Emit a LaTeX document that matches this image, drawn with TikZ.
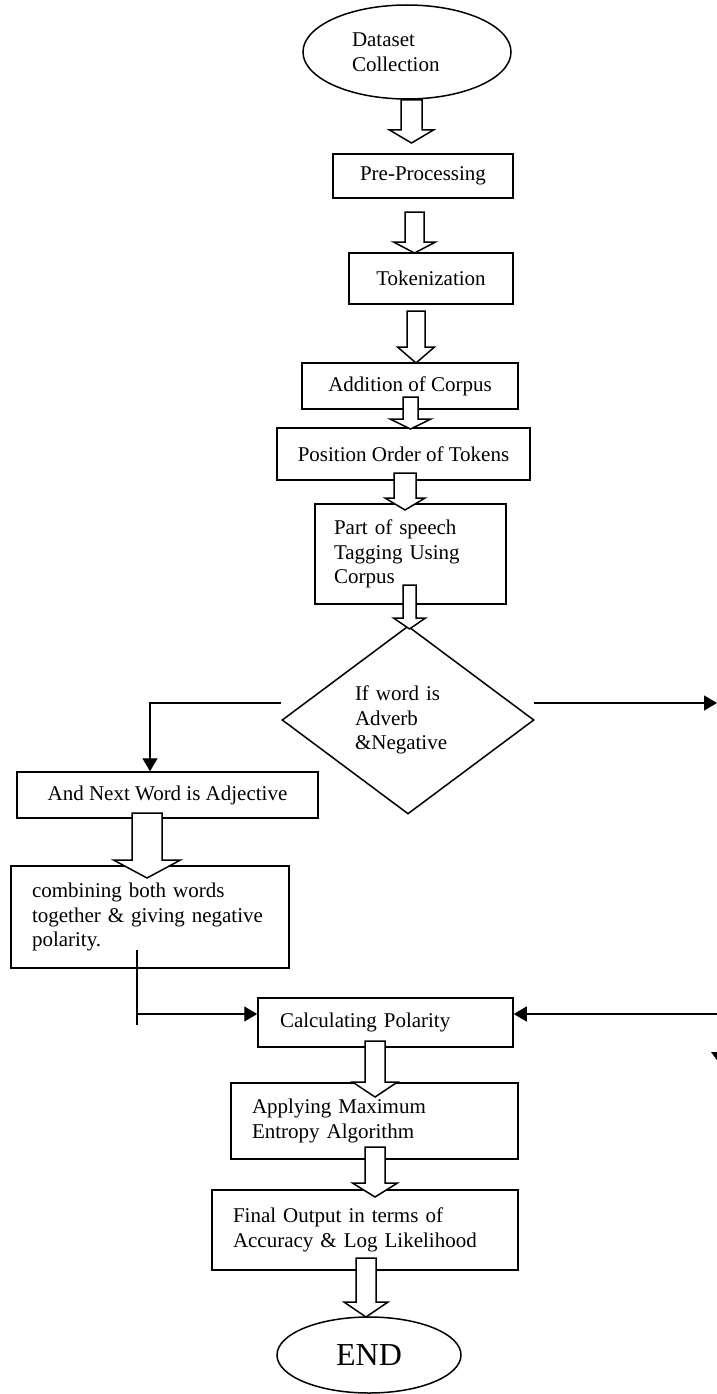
\documentclass[tikz,border=0pt]{standalone}
\usepackage{fontspec}
\setmainfont{Liberation Serif}
\usetikzlibrary{shapes.geometric,arrows.meta,calc}
\newcommand\boxfs{\fontsize{21}{24.5}\selectfont}
\newcommand\bigfs{\fontsize{32}{36}\selectfont}
\newcommand\blockarr[6]{% x, top, headstart, tip, shaft half, head half
  \draw[barrow] (#1-#5,#2) -- (#1-#5,#3) -- (#1-#6,#3) -- (#1,#4) -- (#1+#6,#3) -- (#1+#5,#3) -- (#1+#5,#2) -- cycle;}
\tikzset{
  box/.style={draw, rectangle, line width=1.5pt, inner sep=0pt, font=\boxfs, align=center},
  ell/.style={draw, ellipse, line width=1.5pt, inner sep=0pt, font=\boxfs},
  dia/.style={draw, diamond, line width=1.5pt, inner sep=0pt, font=\boxfs},
  conn/.style={line width=1.3pt},
  arr/.style={-{Triangle[length=13pt,width=15pt]}},
  barrow/.style={draw, fill=white, line width=1.5pt, line join=miter},
}
\begin{document}
\begin{tikzpicture}[x=1pt,y=-1pt]
\useasboundingbox (0,0) rectangle (717,1394);

% nodes
\node[ell, minimum width=208pt, minimum height=94pt, text width=110pt, align=left] (ds) at (407,52) {Dataset\\Collection};
\node[box, minimum width=180pt, minimum height=44pt] (pre) at (423,176) {Pre-Processing};
\node[box, minimum width=164pt, minimum height=51pt] (tok) at (431,278.5) {Tokenization};
\node[box, minimum width=216pt, minimum height=46pt] (add) at (410,386) {Addition of Corpus};
\node[box, minimum width=253pt, minimum height=52pt] (pos) at (403.5,454) {Position Order of Tokens};
\node[box, minimum width=191pt, minimum height=100pt, text width=153pt, align=left] (pst) at (410.5,554) {Part of speech\\Tagging Using\\Corpus};
\node[dia, aspect=1.34, minimum width=252pt, minimum height=188pt, text width=106pt, align=left] (dec) at (408,720) {If word is\\Adverb\\\&Negative};
\node[box, minimum width=301pt, minimum height=46pt] (adj) at (167.5,795) {And Next Word is Adjective};
\node[box, minimum width=278pt, minimum height=102pt, text width=236pt, align=left] (comb) at (150,917) {combining both words\\together \& giving negative\\polarity.};
\node[box, minimum width=255pt, minimum height=49pt, text width=211pt, align=left] (calc) at (385.5,1022.5) {Calculating Polarity};
\node[box, minimum width=287pt, minimum height=76pt, text width=245pt, align=left] (app) at (374.5,1121) {Applying Maximum\\Entropy Algorithm};
\node[box, minimum width=306pt, minimum height=80pt, text width=264pt, align=left] (fin) at (365,1230) {Final Output in terms of\\Accuracy \& Log Likelihood};
\node[ell, minimum width=184pt, minimum height=76pt, font=\bigfs] (end) at (369,1355) {END};

% block arrows
\blockarr{411.5}{100}{130}{143}{10.5}{22}
\blockarr{414.5}{212}{242}{253}{9.5}{21}
\blockarr{416}{311}{347}{363}{9}{18.5}
\blockarr{410.5}{397}{419}{429}{7.5}{20.5}
\blockarr{405}{473}{498}{510}{11}{20}
\blockarr{409.5}{585}{618}{629}{6.5}{16}
\blockarr{147}{813}{860}{878}{15}{33.5}
\blockarr{375}{1041}{1082}{1097}{10}{22.5}
\blockarr{375}{1147}{1183}{1197}{10}{22.5}
\blockarr{366}{1258}{1302}{1317}{10}{22}

% connectors
\coordinate (dl) at ($(dec.west)+(0,-17)$);
\coordinate (dlc) at (150,703);
\coordinate (dr) at ($(dec.east)+(-1,-17)$);
\coordinate (drr) at (717,703);
\draw[conn, arr] (dl) -- (dlc) -- (dlc |- adj.north);
\draw[conn, arr] (dr) -- (drr);

\coordinate (cs) at (137,950);
\coordinate (ce) at (137,1025);
\coordinate (cm) at (137,1014);
\draw[conn] (cs) -- (ce);
\draw[conn, arr] (cm) -- (cm -| calc.west);

\coordinate (rin) at (717,1014);
\draw[conn, arr] (rin) -- (rin -| calc.east);

% partial arrow head at the right edge
\fill (711,1052) -- (727,1052) -- (719,1063) -- cycle;
\end{tikzpicture}
\end{document}
